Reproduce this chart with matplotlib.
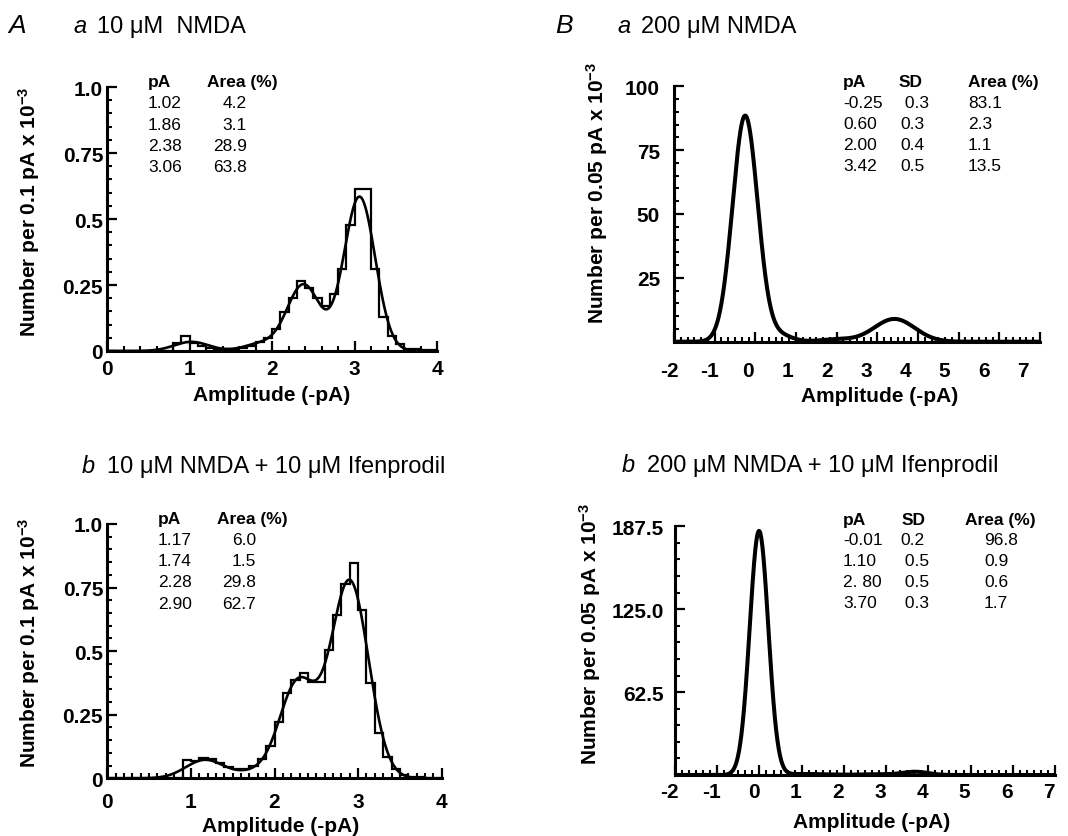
import numpy as np
import matplotlib
matplotlib.use("Agg")
import matplotlib.pyplot as plt
from matplotlib.ticker import MultipleLocator
from matplotlib.transforms import ScaledTranslation

W, H = 1068, 837
plt.rcParams['font.family'] = ['Liberation Sans', 'DejaVu Sans']
plt.rcParams['mathtext.fontset'] = 'custom'
plt.rcParams['mathtext.rm'] = 'Liberation Sans:bold'
plt.rcParams['mathtext.bf'] = 'Liberation Sans:bold'
plt.rcParams['mathtext.default'] = 'rm'

# ---------------- data ----------------
# Panel A: amplitude histograms, 0.1 pA bins starting at 0 pA
binA_start = 0.0
binA_width = 0.1
hist_Aa = [0, 0, 0, 0, 0, 0, 0, 0, 0.030, 0.056,
           0.030, 0.020, 0.012, 0.008, 0.008, 0.008, 0.010, 0.020, 0.033, 0.048,
           0.083, 0.146, 0.200, 0.265, 0.240, 0.200, 0.170, 0.216, 0.310, 0.477,
           0.614, 0.614, 0.310, 0.128, 0.058, 0.027, 0.008, 0.008, 0.003, 0.003]
hist_Ab = [0, 0, 0, 0, 0, 0, 0, 0, 0, 0.072,
           0.068, 0.078, 0.076, 0.060, 0.045, 0.035, 0.035, 0.050, 0.076, 0.128,
           0.220, 0.335, 0.388, 0.414, 0.377, 0.377, 0.506, 0.643, 0.764, 0.845,
           0.663, 0.375, 0.180, 0.083, 0.037, 0.013, 0.005, 0.005, 0.003, 0.003]

# Gaussian fits (means, areas from the tables; SDs for A estimated from the curves)
fit_Aa_mean = [1.02, 1.86, 2.38, 3.06]
fit_Aa_sd = [0.21, 0.20, 0.20, 0.19]
fit_Aa_area = [4.2, 3.1, 28.9, 63.8]
fit_Aa_total = 4.36

fit_Ab_mean = [1.17, 1.74, 2.28, 2.90]
fit_Ab_sd = [0.23, 0.20, 0.22, 0.225]
fit_Ab_area = [6.0, 1.5, 29.8, 62.7]
fit_Ab_total = 6.96

fit_Ba_mean = [-0.25, 0.60, 2.00, 3.42]
fit_Ba_sd = [0.31, 0.3, 0.4, 0.5]
fit_Ba_area = [83.1, 2.3, 1.1, 13.5]
fit_Ba_total = 1655
binB_width = 0.05

fit_Bb_mean = [-0.01, 1.10, 2.80, 3.70]
fit_Bb_sd = [0.22, 0.5, 0.5, 0.3]
fit_Bb_area = [96.8, 0.9, 0.6, 1.7]
fit_Bb_total = 2096

# table texts as printed
tab_Aa_pA = ["1.02", "1.86", "2.38", "3.06"]
tab_Aa_area = ["4.2", "3.1", "28.9", "63.8"]
tab_Ab_pA = ["1.17", "1.74", "2.28", "2.90"]
tab_Ab_area = ["6.0", "1.5", "29.8", "62.7"]
tab_Ba_pA = ["-0.25", "0.60", "2.00", "3.42"]
tab_Ba_sd = [" 0.3", "0.3", "0.4", "0.5"]
tab_Ba_area = ["83.1", "2.3", "1.1", "13.5"]
tab_Bb_pA = ["-0.01", "1.10", "2. 80", "3.70"]
tab_Bb_sd = ["0.2", " 0.5", " 0.5", " 0.3"]
tab_Bb_area = ["96.8", "0.9", "0.6", "1.7"]

A_xticks = [0, 1, 2, 3, 4]
A_yticks = [0, 0.25, 0.5, 0.75, 1.0]
A_yticklabels = ["0", "0.25", "0.5", "0.75", "1.0"]
B_xticks = [-2, -1, 0, 1, 2, 3, 4, 5, 6, 7]
Ba_yticks = [25, 50, 75, 100]
Bb_yticks = [62.5, 125.0, 187.5]
Bb_yticklabels = ["62.5", "125.0", "187.5"]


def mixture(x, means, sds, areas, total, binw):
    y = np.zeros_like(x)
    for m, s, a in zip(means, sds, areas):
        y += total * binw * (a / 100.0) * np.exp(-0.5 * ((x - m) / s) ** 2) / (s * np.sqrt(2 * np.pi))
    return y


fig = plt.figure(figsize=(W / 100, H / 100), dpi=100)


def add_ax(l, r, b, t):
    return fig.add_axes([l / W, 1 - b / H, (r - l) / W, (b - t) / H])


def style(ax, xlabpad, ylabpad):
    for s in ['top', 'right']:
        ax.spines[s].set_visible(False)
    for s in ['left', 'bottom']:
        ax.spines[s].set_linewidth(2.2)
    ax.tick_params(which='major', direction='in', length=7.5, width=1.6, labelsize=15)
    ax.tick_params(which='minor', direction='in', length=3.8, width=1.5)
    ax.tick_params(axis='x', pad=xlabpad)
    ax.tick_params(axis='y', pad=ylabpad)
    for lab in ax.get_xticklabels() + ax.get_yticklabels():
        lab.set_fontweight('bold')
    ax.patch.set_visible(False)


def ftext(x, y, s, **kw):
    fig.text(x / W, 1 - y / H, s, **kw)


ylab1 = r"Number per 0.1 pA x 10$^{-3}$"
ylab2 = r"Number per 0.05 pA x 10$^{-3}$"
xlab = "Amplitude (-pA)"
TS = 12.5

# ---------- A a ----------
ax = add_ax(107.3, 437, 352, 88)
edges = binA_start + binA_width * np.arange(len(hist_Aa) + 1)
ax.stairs(hist_Aa, edges, color='black', lw=1.6)
xs = np.linspace(0, 4, 800)
ax.plot(xs, mixture(xs, fit_Aa_mean, fit_Aa_sd, fit_Aa_area, fit_Aa_total, binA_width), color='black', lw=1.9)
ax.set_xlim(0, 4)
ax.set_ylim(0, 1.0)
ax.set_xticks(A_xticks, [str(v) for v in A_xticks])
ax.set_yticks(A_yticks, A_yticklabels)
ax.xaxis.set_minor_locator(MultipleLocator(0.2))
ax.yaxis.set_minor_locator(MultipleLocator(0.05))
style(ax, 6, 3)
ftext(29, 212, ylab1, rotation=90, ha='center', va='center', fontsize=15, fontweight='bold')
ftext(272, 396, xlab, ha='center', va='center', fontsize=15, fontweight='bold')
ftext(148, 87, "pA", fontsize=TS, fontweight='bold')
ftext(207, 87, "Area (%)", fontsize=TS, fontweight='bold')
for i, (p, a) in enumerate(zip(tab_Aa_pA, tab_Aa_area)):
    yy = 108 + 21.5 * i
    ftext(148, yy, p, fontsize=TS)
    ftext(247, yy, a, fontsize=TS, ha='right')

# ---------- A b ----------
ax = add_ax(107.3, 441.7, 779.3, 525)
edges = binA_start + binA_width * np.arange(len(hist_Ab) + 1)
ax.stairs(hist_Ab, edges, color='black', lw=1.6)
ax.plot(xs, mixture(xs, fit_Ab_mean, fit_Ab_sd, fit_Ab_area, fit_Ab_total, binA_width), color='black', lw=1.9)
ax.set_xlim(0, 4)
ax.set_ylim(0, 1.0)
ax.set_xticks(A_xticks, [str(v) for v in A_xticks])
ax.set_yticks(A_yticks, A_yticklabels)
ax.xaxis.set_minor_locator(MultipleLocator(0.1))
ax.yaxis.set_minor_locator(MultipleLocator(0.05))
style(ax, 10, 3)
ftext(29, 643, ylab1, rotation=90, ha='center', va='center', fontsize=15, fontweight='bold')
ftext(281, 827, xlab, ha='center', va='center', fontsize=15, fontweight='bold')
ftext(158, 524, "pA", fontsize=TS, fontweight='bold')
ftext(217, 524, "Area (%)", fontsize=TS, fontweight='bold')
for i, (p, a) in enumerate(zip(tab_Ab_pA, tab_Ab_area)):
    yy = 545 + 21.2 * i
    ftext(158, yy, p, fontsize=TS)
    ftext(256, yy, a, fontsize=TS, ha='right')


def shift_xlabels(ax, dx_fn):
    for v, lab in zip(ax.get_xticks(), ax.get_xticklabels()):
        lab.set_transform(lab.get_transform() + ScaledTranslation(dx_fn(v) / 100.0, 0, fig.dpi_scale_trans))


# ---------- B a ----------
ax = add_ax(674, 1040, 342.7, 87.3)
xb = np.linspace(-2, 7, 1500)
ax.plot(xb, mixture(xb, fit_Ba_mean, fit_Ba_sd, fit_Ba_area, fit_Ba_total, binB_width), color='black', lw=2.9)
ax.set_xlim(-2, 7)
ax.set_ylim(0, 100)
ax.set_xticks(B_xticks, [str(v) for v in B_xticks])
ax.set_yticks(Ba_yticks, [str(v) for v in Ba_yticks])
ax.xaxis.set_minor_locator(MultipleLocator(1 / 6))
ax.yaxis.set_minor_locator(MultipleLocator(5))
style(ax, 14, 10)
shift_xlabels(ax, lambda v: -7 - 1.4 * v)
ftext(597, 193, ylab2, rotation=90, ha='center', va='center', fontsize=15, fontweight='bold')
ftext(880, 397, xlab, ha='center', va='center', fontsize=15, fontweight='bold')
ftext(843, 87, "pA", fontsize=TS, fontweight='bold')
ftext(899, 87, "SD", fontsize=TS, fontweight='bold')
ftext(968, 87, "Area (%)", fontsize=TS, fontweight='bold')
for i, (p, s, a) in enumerate(zip(tab_Ba_pA, tab_Ba_sd, tab_Ba_area)):
    yy = 107.5 + 21.1 * i
    ftext(843, yy, p, fontsize=TS)
    ftext(900, yy, s, fontsize=TS)
    ftext(968, yy, a, fontsize=TS)

# ---------- B b ----------
ax = add_ax(675, 1055, 776, 527.3)
ax.plot(xb, mixture(xb, fit_Bb_mean, fit_Bb_sd, fit_Bb_area, fit_Bb_total, binB_width), color='black', lw=2.9)
ax.set_xlim(-2, 7)
ax.set_ylim(0, 187.5)
ax.set_xticks(B_xticks, [str(v) for v in B_xticks])
ax.set_yticks(Bb_yticks, Bb_yticklabels)
ax.xaxis.set_minor_locator(MultipleLocator(1 / 6))
ax.yaxis.set_minor_locator(MultipleLocator(12.5))
style(ax, 5, 8)
shift_xlabels(ax, lambda v: -6)
ftext(590, 634, ylab2, rotation=90, ha='center', va='center', fontsize=15, fontweight='bold')
ftext(872, 823, xlab, ha='center', va='center', fontsize=15, fontweight='bold')
ftext(843, 525, "pA", fontsize=TS, fontweight='bold')
ftext(902, 525, "SD", fontsize=TS, fontweight='bold')
ftext(965, 525, "Area (%)", fontsize=TS, fontweight='bold')
for i, (p, s, a) in enumerate(zip(tab_Bb_pA, tab_Bb_sd, tab_Bb_area)):
    yy = 545 + 21.1 * i
    ftext(843, yy, p, fontsize=TS)
    ftext(900, yy, s, fontsize=TS)
    ftext(984, yy, a, fontsize=TS)

# ---------- panel letters and titles ----------
ftext(8, 33, "A", fontsize=19, style='italic')
ftext(555, 33, "B", fontsize=19, style='italic')
TT = 17

ftext(73, 33, "a", fontsize=TT, style='italic')
ftext(97, 33, "10 \u03bcM  NMDA", fontsize=TT)
ftext(82, 473, "b", fontsize=TT, style='italic')
ftext(107, 473, "10 \u03bcM NMDA + 10 \u03bcM Ifenprodil", fontsize=TT)
ftext(617, 33, "a", fontsize=TT, style='italic')
ftext(641, 33, "200 \u03bcM NMDA", fontsize=TT)
ftext(622, 472, "b", fontsize=TT, style='italic')
ftext(647, 472, "200 \u03bcM NMDA + 10 \u03bcM Ifenprodil", fontsize=TT)

fig.savefig("out.png", dpi=100)
